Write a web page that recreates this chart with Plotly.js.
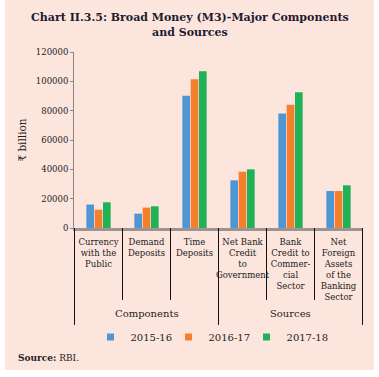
<!DOCTYPE html>
<html>
<head>
<meta charset="utf-8">
<script src="https://cdn.plot.ly/plotly-3.0.1.min.js"></script>
<style>
html,body{margin:0;padding:0;background:#ffffff;}
#chart{position:absolute;left:5px;top:0px;width:369px;height:370px;}
</style>
</head>
<body>
<div id="chart"></div>
<script>
const categories = ["Currency", "Demand", "Time", "NBCG", "BCCS", "NFA"];
const categoryLabels = [
  "Currency<br>with the<br>Public",
  "Demand<br>Deposits",
  "Time<br>Deposits",
  "Net Bank<br>Credit<br>to<br>Government",
  "Bank<br>Credit to<br>Commer-<br>cial<br>Sector",
  "Net<br>Foreign<br>Assets<br>of the<br>Banking<br>Sector"
];
const seriesNames = ["2015-16", "2016-17", "2017-18"];
const values2015 = [16000, 9800, 90200, 32500, 78000, 25200];
const values2016 = [12500, 13900, 101400, 38400, 84100, 25200];
const values2017 = [17500, 14800, 106800, 40000, 92500, 29100];
const groupNames = ["Components", "Sources"];
const yTicks = [0, 20000, 40000, 60000, 80000, 100000, 120000];

const colors = ["#4e97d3", "#f47f2f", "#1fb155"];
const serif = "DejaVu Serif";
const allValues = [values2015, values2016, values2017];
const legendIds = ["legend", "legend2", "legend3"];
const legendX = [0.057, 0.327, 0.597];

const traces = [];
allValues.forEach((vals, i) => {
  traces.push({
    type: "bar", x: categories, y: vals, name: seriesNames[i],
    marker: {color: colors[i]}, showlegend: false, hoverinfo: "x+y"
  });
});
allValues.forEach((vals, i) => {
  traces.push({
    type: "scatter", mode: "markers", x: [null], y: [null], name: seriesNames[i],
    marker: {color: colors[i], symbol: "square", size: 7}, showlegend: true,
    legend: legendIds[i]
  });
});

const shapes = [];
for (let i = 0; i <= categories.length; i++) {
  const major = (i === 0 || i === 3 || i === categories.length);
  shapes.push({
    type: "line", xref: "x", yref: "paper",
    x0: i - 0.5, x1: i - 0.5, y0: 0, y1: major ? -0.551 : -0.409,
    line: {color: "#111111", width: 1}
  });
}

const annotations = [
  {xref: "x", yref: "paper", x: categories[1], y: -0.483, yanchor: "middle", xanchor: "center",
   text: groupNames[0], showarrow: false, font: {family: serif, size: 10, color: "#222"}},
  {xref: "x", yref: "paper", x: categories[4], y: -0.483, yanchor: "middle", xanchor: "center",
   text: groupNames[1], showarrow: false, font: {family: serif, size: 10, color: "#222"}},
  {xref: "paper", yref: "paper", x: -0.2007, y: -0.736, xanchor: "left", yanchor: "middle",
   text: "<b>Source:</b> RBI.", showarrow: false, font: {family: serif, size: 9, color: "#222"}}
];

const layout = {
  width: 369, height: 370,
  paper_bgcolor: "#fce5dd", plot_bgcolor: "#fce5dd",
  margin: {l: 69, r: 11, t: 52, b: 142},
  title: {
    text: "<b>Chart II.3.5: Broad Money (M3)-Major Components<br>and Sources</b>",
    xref: "container", x: 0.501, xanchor: "center",
    yref: "container", y: 0.942, yanchor: "top",
    font: {family: serif, size: 11, color: "#1c1c30"}
  },
  barmode: "group", bargap: 0.48, bargroupgap: 0.08,
  xaxis: {
    type: "category", showline: true, linecolor: "#9c9492", linewidth: 2.5,
    ticks: "", tickvals: categories, ticktext: categoryLabels, tickangle: 0,
    tickfont: {family: serif, size: 8.5, color: "#222"}, ticklabelstandoff: 4,
    showgrid: false, zeroline: false, fixedrange: true, automargin: false
  },
  yaxis: {
    range: [0, 120000], tickvals: yTicks, tickformat: "d",
    ticks: "outside", ticklen: 3, tickcolor: "#8c8482",
    showline: true, linecolor: "#8c8482", linewidth: 1,
    showgrid: false, zeroline: false, automargin: false,
    tickfont: {family: serif, size: 8.5, color: "#222"},
    title: {text: "₹ billion", font: {family: serif, size: 10.5, color: "#222"}, standoff: 7}
  },
  shapes: shapes,
  annotations: annotations
};
legendIds.forEach((id, i) => {
  layout[id] = {
    orientation: "h", x: legendX[i], xanchor: "left", y: -0.619, yanchor: "middle",
    font: {family: serif, size: 10, color: "#222"}, bgcolor: "rgba(0,0,0,0)"
  };
});

Plotly.newPlot("chart", traces, layout, {displayModeBar: false, staticPlot: true});
</script>
</body>
</html>
